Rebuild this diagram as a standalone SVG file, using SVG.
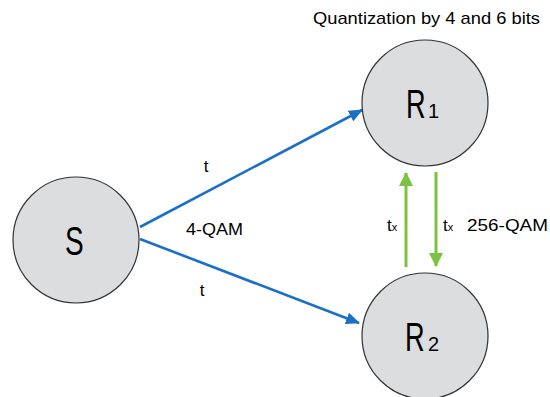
<svg xmlns="http://www.w3.org/2000/svg" width="550" height="397" viewBox="0 0 550 397">
<style>
.node{fill:#dcdddf;stroke:#333;stroke-width:1.2}
.lbl{font-family:"Liberation Sans",Arial,sans-serif;fill:#000}
.big{font-size:40px}
.sub{font-size:20px}
.txt{font-size:17px}
.blue{stroke:#1a6fc6;stroke-width:2.6;fill:none}
.green{stroke:#7bc142;stroke-width:3;fill:none}
</style>
<defs>
<marker id="ab" markerUnits="userSpaceOnUse" markerWidth="14" markerHeight="12" refX="13" refY="6" orient="auto">
<path d="M0,0 L14,6 L0,12 Z" fill="#1a6fc6"/>
</marker>
<marker id="ag" markerUnits="userSpaceOnUse" markerWidth="14" markerHeight="14" refX="13" refY="7" orient="auto">
<path d="M0,0 L14,7 L0,14 Z" fill="#7bc142"/>
</marker>
</defs>
<rect width="550" height="397" fill="#fff"/>
<g id="connectors">
<line class="blue" x1="140" y1="227" x2="362" y2="110" marker-end="url(#ab)"/>
<line class="blue" x1="140" y1="239" x2="359" y2="323" marker-end="url(#ab)"/>
<line class="green" x1="406" y1="267" x2="406" y2="173" marker-end="url(#ag)"/>
<line class="green" x1="436" y1="172" x2="436" y2="266" marker-end="url(#ag)"/>
<text class="lbl txt" x="206" y="172" text-anchor="middle">t</text>
<text class="lbl txt" x="202" y="296" text-anchor="middle">t</text>
<text class="lbl txt" x="186" y="235" textLength="57" lengthAdjust="spacingAndGlyphs">4-QAM</text>
<text class="lbl txt" x="387" y="231">t<tspan font-size="11">x</tspan></text>
<text class="lbl txt" x="443" y="231">t<tspan font-size="11">x</tspan></text>
<text class="lbl txt" x="467" y="231" textLength="81" lengthAdjust="spacingAndGlyphs">256-QAM</text>
</g>
<g id="S">
<circle class="node" cx="76" cy="240" r="63"/>
<text class="lbl big" transform="translate(65,255) scale(0.7,1)">S</text>
</g>
<g id="R1">
<circle class="node" cx="425" cy="103" r="63"/>
<text class="lbl big" transform="translate(406,118) scale(0.68,1)">R</text>
<text class="lbl sub" x="428" y="118">1</text>
<text class="lbl txt" x="313" y="24" textLength="227" lengthAdjust="spacingAndGlyphs">Quantization by 4 and 6 bits</text>
</g>
<g id="R2">
<circle class="node" cx="425" cy="336" r="63"/>
<text class="lbl big" transform="translate(405,351) scale(0.68,1)">R</text>
<text class="lbl sub" x="428" y="351">2</text>
</g>
</svg>
